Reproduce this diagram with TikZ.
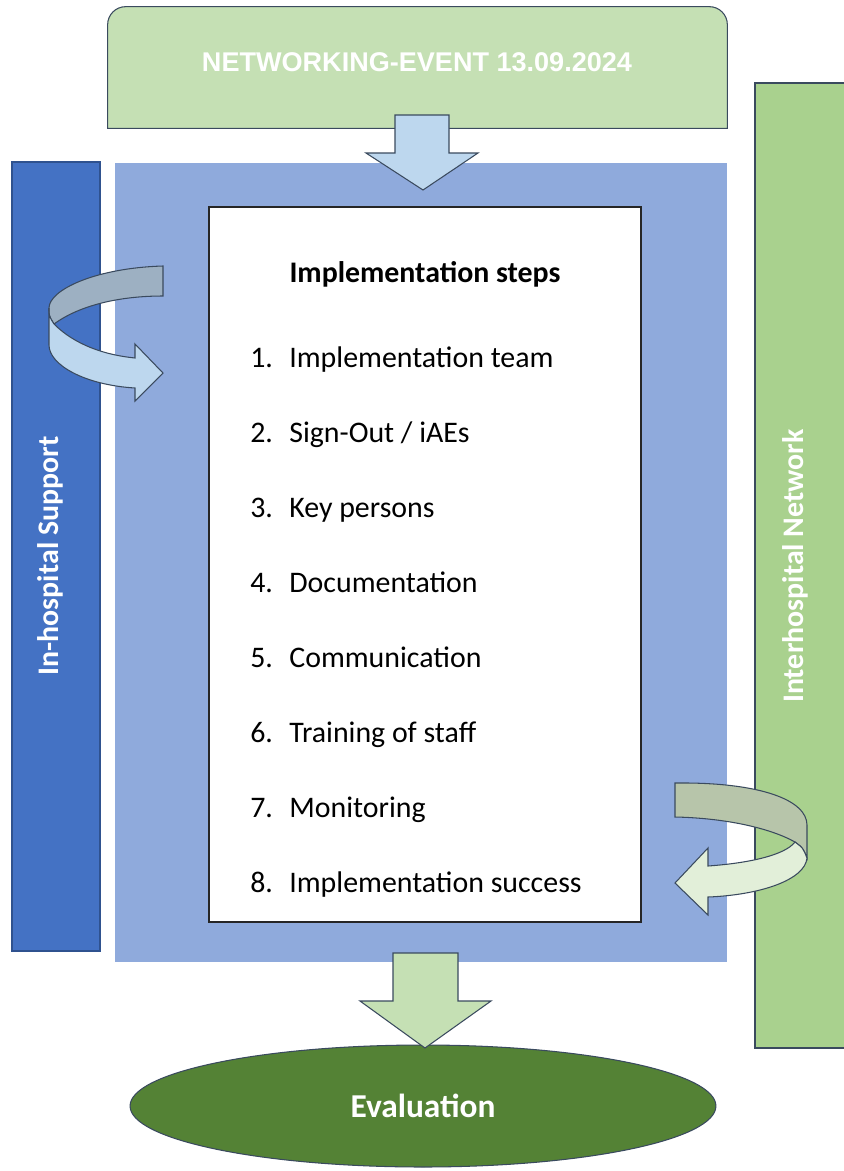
\documentclass[tikz,border=0pt]{standalone}
\usepackage{fontspec}
\setmainfont{Carlito}
\newfontfamily\headfont{Liberation Sans}
\usetikzlibrary{fit,shapes.geometric}
\definecolor{edge}{HTML}{3A4A5E}
\definecolor{event}{HTML}{C5E0B4}
\definecolor{frame}{HTML}{8FAADC}
\definecolor{inbar}{HTML}{4472C4}
\definecolor{inedge}{HTML}{2F528F}
\definecolor{netbar}{HTML}{A9D18E}
\definecolor{evalgreen}{HTML}{548235}
\definecolor{sky}{HTML}{BDD7EE}
\definecolor{skydark}{HTML}{9DB0C2}
\definecolor{leaf}{HTML}{E2EFD9}
\definecolor{leafdark}{HTML}{B7C5AA}
\tikzset{
  panel/.style={fill=#1, draw=edge, line width=0.6pt, inner sep=0pt},
  sidelbl/.style={rotate=90, text=white, font=\fontsize{17}{20}\selectfont\bfseries},
  steptxt/.style={font=\fontsize{17}{20}\selectfont, inner sep=0pt},
  blockarr/.style={fill=#1, draw=edge, line width=0.6pt, line join=miter},
}
\begin{document}
\begin{tikzpicture}[x=0.02cm, y=-0.02cm]
\useasboundingbox (0,0) rectangle (843,1171);

% side bars
\node[panel=inbar, draw=inedge, fit={(12,162) (100,951)}] (inbar) {};
\node[panel=netbar, fit={(755,83) (860,1048)}] (netbar) {};
\node[sidelbl] (inlbl) at (50,556) {In-hospital Support};
\node[sidelbl] (netlbl) at (795,566) {Interhospital Network};

% frame with the list of steps
\node[fill=frame, inner sep=0pt, fit={(115,163) (727,962)}] (frame) {};
\node[draw=black!85, fill=white, line width=0.8pt, inner sep=0pt, fit={(209,207) (641,922)}] (steps) {};
\node[steptxt, font=\fontsize{17}{20}\selectfont\bfseries, anchor=base] (title) at (425,282) {Implementation steps};
\foreach \i/\txt in {1/Implementation team, 2/{Sign-Out / iAEs}, 3/Key persons, 4/Documentation,
                     5/Communication, 6/Training of staff, 7/Monitoring, 8/Implementation success} {
  \node[steptxt, anchor=base west] (num\i) at (250,{367+75*(\i-1)}) {\i.};
  \node[steptxt, anchor=base west] (item\i) at (289,{367+75*(\i-1)}) {\txt};
}

% event on top, square bottom corners
\node[inner sep=0pt, fit={(108,7) (727,128)}] (event) {};
\filldraw[fill=event, draw=edge, line width=0.6pt]
  (event.south west) -- ([yshift=-0.36cm]event.north west) arc[start angle=180, end angle=90, radius=0.36cm]
  -- ([xshift=-0.36cm]event.north east) arc[start angle=90, end angle=0, radius=0.36cm]
  -- (event.south east) -- cycle;
\node[text=white, font=\headfont\bfseries\fontsize{15.4}{18}\selectfont] (eventlbl) at (417,62) {NETWORKING-EVENT 13.09.2024};

% evaluation
\node[ellipse, fill=evalgreen, draw=edge, line width=0.6pt, minimum width=11.72cm, minimum height=2.44cm,
      inner sep=0pt, text=white, font=\fontsize{19}{22}\selectfont\bfseries] (eval) at (423,1106) {Evaluation};

% block arrows
\filldraw[blockarr=sky] (395,115) -- (449,115) -- (449,153) -- (478,153) -- (423,190) -- (366,153) -- (395,153) -- cycle;
\filldraw[blockarr=event] (393,953) -- (458,953) -- (458,1001) -- (491,1001) -- (425,1048) -- (360,1001) -- (393,1001) -- cycle;

% turning arrow, left
\filldraw[blockarr=skydark] (163,266) .. controls (95,268) and (49,290) .. (49,308)
  .. controls (49,316) .. (54,324) .. controls (80,305) and (120,296) .. (163,296) -- cycle;
\filldraw[blockarr=sky] (49,308) .. controls (49,316) .. (54,324)
  .. controls (75,345) and (105,355) .. (135,358) -- (135,344) -- (163,373) -- (135,401) -- (135,388)
  .. controls (85,385) and (49,365) .. (49,345) -- cycle;

% turning arrow, right
\filldraw[blockarr=leafdark] (675,783) .. controls (760,782) and (807,800) .. (807,825) -- (807,858)
  .. controls (803,848) .. (795,842) .. controls (770,828) and (725,818) .. (675,817) -- cycle;
\filldraw[blockarr=leaf] (795,842) .. controls (803,848) .. (807,858)
  .. controls (805,880) and (760,895) .. (708,897) -- (708,915) -- (675,883) -- (708,848) -- (708,866)
  .. controls (750,863) and (785,855) .. (795,842) -- cycle;
\end{tikzpicture}
\end{document}
